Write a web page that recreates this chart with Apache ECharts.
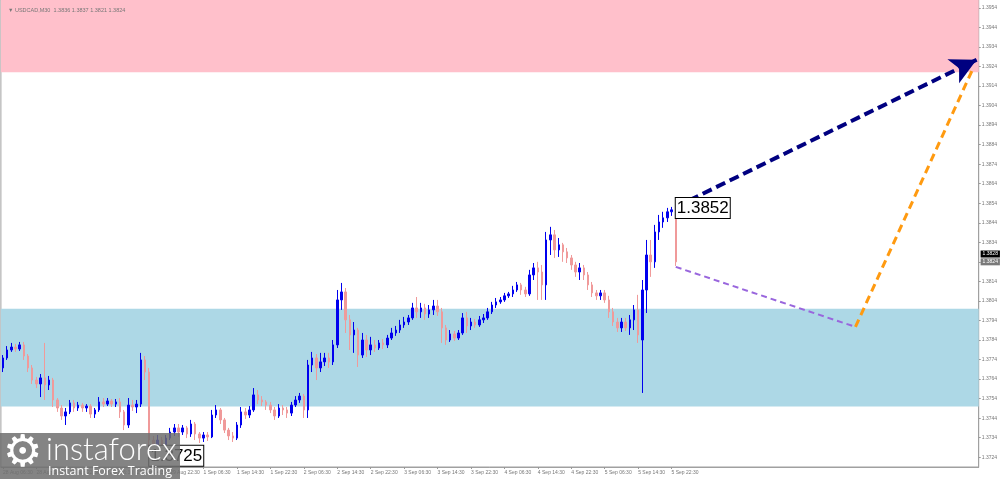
<!DOCTYPE html>
<html><head><meta charset="utf-8">
<script src="https://cdn.jsdelivr.net/npm/echarts@6/dist/echarts.min.js"></script>
<style>html,body{margin:0;padding:0;background:#fff}#c{width:1000px;height:479px}</style>
</head><body><div id="c"></div>
<script>
// ---------- data ----------
const chartTitle = 'USDCAD,M30  1.3836 1.3837 1.3821 1.3824';
// trading days (hourly buckets, labelled at :30) and the first hour they cover
const days = [['28 Aug', 6], ['29 Aug', 0], ['1 Sep', 0], ['2 Sep', 0], ['3 Sep', 0], ['4 Sep', 0], ['5 Sep', 0], ['8 Sep', 0], ['9 Sep', 0], ['10 Sep', 0]];
const xLabelTimes = ['06:30', '14:30', '22:30'];
const lastLabel = '5 Sep 22:30';
const yTicks = [1.3724, 1.3734, 1.3744, 1.3754, 1.3764, 1.3774, 1.3784, 1.3794, 1.3804, 1.3814, 1.3824, 1.3834, 1.3844, 1.3854, 1.3864, 1.3874, 1.3884, 1.3894, 1.3904, 1.3914, 1.3924, 1.3934, 1.3944, 1.3954];
const yRange = [1.3719, 1.3958];
const pinkZone = [1.3921, 1.3958];
const blueZone = [1.3750, 1.3800];
const axisPrices = [1.3828, 1.3824];
// [open, close, low, high]
const ohlc = [
[1.37697,1.37748,1.37676,1.37763],[1.37748,1.37789,1.37738,1.37809],[1.37789,1.37804,1.37779,1.37825],[1.37804,1.37794,1.37779,1.37820],
[1.37794,1.37815,1.37784,1.37830],[1.37815,1.37758,1.37738,1.37830],[1.37758,1.37697,1.37676,1.37768],[1.37697,1.37635,1.37615,1.37712],
[1.37635,1.37615,1.37594,1.37651],[1.37615,1.37646,1.37548,1.37666],[1.37646,1.37610,1.37533,1.37825],[1.37610,1.37635,1.37584,1.37656],
[1.37635,1.37533,1.37497,1.37646],[1.37533,1.37492,1.37472,1.37543],[1.37492,1.37451,1.37431,1.37507],[1.37451,1.37472,1.37405,1.37492],
[1.37472,1.37518,1.37461,1.37533],[1.37518,1.37492,1.37472,1.37533],[1.37492,1.37507,1.37477,1.37523],[1.37507,1.37492,1.37472,1.37518],
[1.37492,1.37502,1.37472,1.37512],[1.37502,1.37461,1.37441,1.37512],[1.37461,1.37482,1.37441,1.37492],[1.37482,1.37523,1.37472,1.37548],
[1.37523,1.37512,1.37497,1.37543],[1.37512,1.37528,1.37502,1.37543],[1.37528,1.37512,1.37497,1.37538],[1.37512,1.37523,1.37497,1.37538],
[1.37523,1.37472,1.37441,1.37543],[1.37472,1.37405,1.37379,1.37482],[1.37405,1.37507,1.37390,1.37543],[1.37507,1.37497,1.37477,1.37533],
[1.37497,1.37512,1.37466,1.37533],[1.37512,1.37738,1.37497,1.37774],[1.37738,1.37676,1.37635,1.37758],[1.37676,1.37328,1.37287,1.37697],
[1.37328,1.37287,1.37251,1.37349],[1.37287,1.37328,1.37262,1.37354],[1.37328,1.37303,1.37267,1.37344],[1.37303,1.37338,1.37277,1.37354],
[1.37338,1.37369,1.37328,1.37390],[1.37369,1.37390,1.37349,1.37410],[1.37390,1.37369,1.37344,1.37410],[1.37369,1.37390,1.37354,1.37405],
[1.37390,1.37359,1.37338,1.37400],[1.37359,1.37410,1.37344,1.37431],[1.37410,1.37359,1.37328,1.37420],[1.37359,1.37338,1.37313,1.37369],
[1.37338,1.37354,1.37318,1.37369],[1.37354,1.37344,1.37323,1.37369],[1.37344,1.37456,1.37338,1.37482],[1.37456,1.37482,1.37441,1.37507],
[1.37482,1.37431,1.37410,1.37492],[1.37431,1.37379,1.37364,1.37441],[1.37379,1.37349,1.37328,1.37390],[1.37349,1.37338,1.37318,1.37369],
[1.37338,1.37405,1.37328,1.37420],[1.37405,1.37472,1.37390,1.37497],[1.37472,1.37456,1.37436,1.37492],[1.37456,1.37482,1.37441,1.37502],
[1.37482,1.37559,1.37472,1.37594],[1.37559,1.37533,1.37512,1.37584],[1.37533,1.37523,1.37502,1.37553],[1.37523,1.37507,1.37482,1.37533],
[1.37507,1.37482,1.37466,1.37523],[1.37482,1.37451,1.37431,1.37497],[1.37451,1.37492,1.37441,1.37512],[1.37492,1.37482,1.37456,1.37507],
[1.37482,1.37466,1.37441,1.37497],[1.37466,1.37507,1.37451,1.37523],[1.37507,1.37533,1.37497,1.37553],[1.37533,1.37553,1.37518,1.37569],
[1.37553,1.37482,1.37441,1.37564],[1.37482,1.37712,1.37441,1.37738],[1.37712,1.37748,1.37676,1.37779],[1.37748,1.37697,1.37635,1.37768],
[1.37697,1.37728,1.37676,1.37774],[1.37728,1.37748,1.37707,1.37774],[1.37748,1.37728,1.37697,1.37774],[1.37728,1.37815,1.37712,1.37840],
[1.37815,1.38045,1.37799,1.38096],[1.38045,1.38086,1.37994,1.38132],[1.38086,1.37943,1.37876,1.38106],[1.37943,1.37866,1.37789,1.37968],
[1.37866,1.37891,1.37774,1.37932],[1.37891,1.37763,1.37702,1.37902],[1.37763,1.37840,1.37748,1.37876],[1.37840,1.37789,1.37753,1.37866],
[1.37789,1.37815,1.37763,1.37856],[1.37815,1.37799,1.37779,1.37840],[1.37799,1.37825,1.37789,1.37840],[1.37825,1.37815,1.37794,1.37845],
[1.37815,1.37850,1.37799,1.37866],[1.37850,1.37876,1.37840,1.37902],[1.37876,1.37891,1.37861,1.37912],[1.37891,1.37917,1.37876,1.37943],
[1.37917,1.37932,1.37902,1.37958],[1.37932,1.37953,1.37917,1.37968],[1.37953,1.38004,1.37943,1.38030],[1.38004,1.37984,1.37953,1.38060],
[1.37984,1.38004,1.37953,1.38030],[1.38004,1.37973,1.37943,1.38025],[1.37973,1.37994,1.37953,1.38019],[1.37994,1.38014,1.37968,1.38045],
[1.38014,1.37984,1.37963,1.38045],[1.37984,1.37902,1.37825,1.38004],[1.37902,1.37840,1.37815,1.37917],[1.37840,1.37871,1.37830,1.37891],
[1.37871,1.37850,1.37835,1.37886],[1.37850,1.37876,1.37840,1.37891],[1.37876,1.37953,1.37866,1.37978],[1.37953,1.37912,1.37876,1.37984],
[1.37912,1.37932,1.37891,1.37953],[1.37932,1.37917,1.37902,1.37948],[1.37917,1.37943,1.37907,1.37963],[1.37943,1.37953,1.37927,1.37973],
[1.37953,1.37984,1.37943,1.38004],[1.37984,1.38019,1.37973,1.38035],[1.38019,1.38035,1.38004,1.38055],[1.38035,1.38045,1.38025,1.38060],
[1.38045,1.38066,1.38035,1.38081],[1.38066,1.38076,1.38055,1.38086],[1.38076,1.38096,1.38060,1.38117],[1.38096,1.38122,1.38086,1.38137],
[1.38122,1.38096,1.38071,1.38132],[1.38096,1.38076,1.38060,1.38112],[1.38076,1.38173,1.38066,1.38199],[1.38173,1.38209,1.38147,1.38234],
[1.38209,1.38188,1.38045,1.38240],[1.38188,1.38122,1.38045,1.38224],[1.38122,1.38352,1.38045,1.38393],[1.38352,1.38378,1.38275,1.38419],
[1.38378,1.38301,1.38260,1.38403],[1.38301,1.38327,1.38265,1.38362],[1.38327,1.38291,1.38240,1.38337],[1.38291,1.38260,1.38234,1.38311],
[1.38260,1.38224,1.38199,1.38275],[1.38224,1.38188,1.38163,1.38240],[1.38188,1.38209,1.38147,1.38234],[1.38209,1.38173,1.38147,1.38224],
[1.38173,1.38122,1.38096,1.38188],[1.38122,1.38081,1.38060,1.38137],[1.38081,1.38066,1.38045,1.38096],[1.38066,1.38081,1.38045,1.38096],
[1.38081,1.38045,1.38030,1.38096],[1.38045,1.37984,1.37953,1.38066],[1.37984,1.37932,1.37912,1.38004],[1.37932,1.37902,1.37881,1.37953],
[1.37902,1.37932,1.37881,1.37953],[1.37932,1.37902,1.37886,1.37953],[1.37902,1.37943,1.37866,1.37968],[1.37943,1.37994,1.37891,1.38019],
[1.37994,1.37866,1.37825,1.38071],[1.37840,1.38096,1.37569,1.38147],[1.38096,1.38275,1.37978,1.38352],[1.38275,1.38240,1.38163,1.38352],
[1.38240,1.38393,1.38209,1.38429],[1.38393,1.38444,1.38352,1.38480],[1.38444,1.38465,1.38414,1.38496],[1.38465,1.38496,1.38444,1.38516],
[1.38496,1.38506,1.38475,1.38521],[1.38506,1.38240,1.38219,1.38521]
];
// annotation labels: [category, price, text]
const extremeLabels = [['5 Sep 23:30', 1.38516, '1.3852'], ['29 Aug 17:30', 1.37247, '1.3725']];
// forecast waves: [category, price]
const waveNavy = [['5 Sep 23:30', 1.38521], ['10 Sep 23:30', 1.39274]];
const wavePurple = [['5 Sep 23:30', 1.38214], ['9 Sep 18:30', 1.37907]];
const waveOrange = [['9 Sep 18:30', 1.37907], ['10 Sep 22:30', 1.39223]];

// ---------- build ----------
const categories = [];
days.forEach(([d, h0]) => { for (let h = h0; h < 24; h++) categories.push(d + ' ' + String(h).padStart(2, '0') + ':30'); });
const lastIdx = categories.indexOf(lastLabel);
const lastCat = categories[categories.length - 1];
const showLabel = (i) => i <= lastIdx && xLabelTimes.includes(categories[i].slice(-5));
const smallFont = 'Liberation Sans, Arial, sans-serif';

const boxLabel = (text) => ({
  show: true, position: 'right', distance: 0, formatter: text,
  fontFamily: 'Liberation Sans, Arial, sans-serif', fontSize: 17, color: '#000',
  backgroundColor: '#fff', borderColor: '#000', borderWidth: 1, padding: [2, 1, 1, 1]
});
const priceTag = (p, i) => ({
  coord: [lastCat, p],
  label: {show: true, position: 'right', distance: 4, formatter: p.toFixed(4), fontSize: 5,
    color: '#fff', backgroundColor: i === 0 ? '#000' : '#7a7a7a', padding: [1, 2], fontFamily: smallFont}
});

const chart = echarts.init(document.getElementById('c'), null, {renderer: 'canvas'});
chart.setOption({
  animation: false,
  backgroundColor: '#fff',
  title: {
    text: '\u25BC ' + chartTitle, left: 3, top: 2,
    textStyle: {fontSize: 5.5, color: '#777', fontWeight: 'normal', fontFamily: smallFont}
  },
  grid: {left: 0, right: 19, top: 0, bottom: 12, show: true, borderColor: '#a0a0a0', borderWidth: 1, backgroundColor: 'transparent'},
  xAxis: {
    type: 'category', data: categories, boundaryGap: true,
    axisLine: {show: true, lineStyle: {color: '#a0a0a0'}},
    axisTick: {show: true, alignWithLabel: true, interval: (i) => showLabel(i), length: 2, lineStyle: {color: '#999'}},
    axisLabel: {interval: (i) => showLabel(i), align: 'left', fontSize: 5, color: '#777', margin: 3, fontFamily: smallFont},
    splitLine: {show: false}
  },
  yAxis: {
    type: 'value', position: 'right', min: yRange[0], max: yRange[1], scale: true,
    axisLine: {show: true, lineStyle: {color: '#a0a0a0'}},
    axisTick: {show: true, customValues: yTicks, length: 2, lineStyle: {color: '#999'}},
    axisLabel: {customValues: yTicks, formatter: (v) => v.toFixed(4), fontSize: 5, color: '#777', margin: 3, fontFamily: smallFont},
    splitLine: {show: false}
  },
  series: [
    {
      type: 'line', z: 1, data: [], symbol: 'none', silent: true,
      markArea: {
        silent: true,
        data: [
          [{yAxis: pinkZone[0], itemStyle: {color: '#ffc0cb', opacity: 1}}, {yAxis: pinkZone[1]}],
          [{yAxis: blueZone[0], itemStyle: {color: '#add8e6', opacity: 1}}, {yAxis: blueZone[1]}]
        ]
      }
    },
    {
      type: 'candlestick', z: 3, data: ohlc, barWidth: 2,
      itemStyle: {color: '#0000ee', color0: '#f09a9a', borderColor: '#0000ee', borderColor0: '#f09a9a', borderWidth: 1}
    },
    {
      type: 'line', z: 4, data: [], symbol: 'none', silent: true,
      markLine: {
        silent: true, animation: false,
        label: {show: false},
        data: [
          [{coord: wavePurple[0], symbol: 'none', lineStyle: {color: '#9966dd', width: 2, type: [6, 4]}}, {coord: wavePurple[1], symbol: 'none'}],
          [{coord: waveOrange[0], symbol: 'none', lineStyle: {color: '#ff9a10', width: 3, type: [8, 5]}}, {coord: waveOrange[1], symbol: 'none'}],
          [{coord: waveNavy[0], symbol: 'none', lineStyle: {color: '#000080', width: 4, type: [10, 5]}}, {coord: waveNavy[1], symbol: 'arrow', symbolSize: [20, 26]}]
        ]
      }
    },
    {
      type: 'scatter', z: 5, data: [], silent: true, clip: false,
      markPoint: {
        symbol: 'rect', symbolSize: 0, silent: true,
        data: extremeLabels.map(([c, p, t]) => ({coord: [c, p], label: boxLabel(t)}))
          .concat(axisPrices.map(priceTag))
      }
    }
  ],
  graphic: [{
    type: 'group', left: 0, bottom: 0, z: 100, zlevel: 1,
    children: [
      {type: 'rect', z: 100, zlevel: 1, shape: {x: 0, y: 0, width: 180, height: 46}, style: {fill: 'rgba(110,110,110,0.85)'}},
      {type: 'text', z: 101, zlevel: 1, x: 3, y: 0, style: {text: '\u2699', fontSize: 44, fill: '#fff', fontFamily: 'DejaVu Sans'}},
      {type: 'text', z: 101, zlevel: 1, x: 46, y: 1, style: {text: 'instaforex', fontSize: 31, fill: '#fff', fontFamily: 'Lato, Open Sans, sans-serif', fontWeight: 300}},
      {type: 'text', z: 101, zlevel: 1, x: 48, y: 32, style: {text: 'Instant Forex Trading', fontSize: 12.5, fill: '#fff', fontFamily: 'Open Sans, sans-serif'}}
    ]
  }]
});
</script></body></html>
